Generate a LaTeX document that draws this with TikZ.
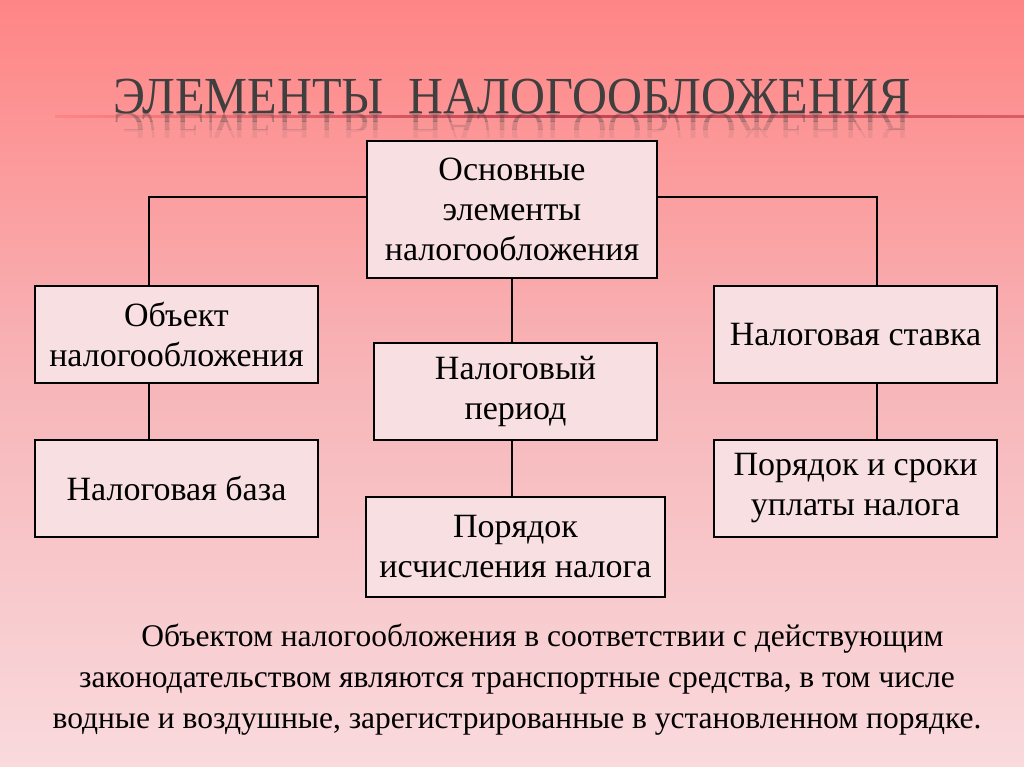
\documentclass[tikz,border=0pt]{standalone}
\usepackage{fontspec}
\setmainfont{Liberation Serif}
\newfontfamily\titlefont[FakeStretch=0.93]{Liberation Serif}
\usetikzlibrary{calc}
\definecolor{bgtop}{HTML}{FF8585}
\definecolor{bgmid}{HTML}{F7B6B9}
\definecolor{bgbot}{HTML}{F9DADD}
\definecolor{boxfill}{HTML}{F8DFE1}
\definecolor{titlegray}{HTML}{3F3F3F}
\definecolor{linered}{HTML}{C24352}
\tikzset{
  box/.style={draw=black, line width=2.6pt, fill=boxfill, align=center,
    inner sep=0pt, font=\fontsize{34}{40}\selectfont},
  conn/.style={draw=black, line width=2.6pt},
  ttl/.style={anchor=base, text=titlegray, inner sep=0pt,
    font=\titlefont\fontsize{52}{52}\selectfont}
}
\begin{document}
\begin{tikzpicture}[x=1pt,y=-1pt]
\useasboundingbox (0,0) rectangle (1024,767);
\shade[top color=bgtop, bottom color=bgbot, middle color=bgmid] (0,0) rectangle (1024,767);
% title line
\shade[left color=bgtop, right color=linered!60!bgtop, middle color=linered] (55,115.5) rectangle (1024,118);
% title
\node[ttl] (title) at (512,114) {ЭЛЕМЕНТЫ\ \ НАЛОГООБЛОЖЕНИЯ};
% reflection
\begin{scope}
\clip (0,114) rectangle (1024,122);
\node[ttl, opacity=0.35, yscale=-1] at (512,114) {ЭЛЕМЕНТЫ\ \ НАЛОГООБЛОЖЕНИЯ};
\end{scope}
\begin{scope}
\clip (0,122) rectangle (1024,130);
\node[ttl, opacity=0.2, yscale=-1] at (512,114) {ЭЛЕМЕНТЫ\ \ НАЛОГООБЛОЖЕНИЯ};
\end{scope}
\begin{scope}
\clip (0,130) rectangle (1024,138);
\node[ttl, opacity=0.08, yscale=-1] at (512,114) {ЭЛЕМЕНТЫ\ \ НАЛОГООБЛОЖЕНИЯ};
\end{scope}

% boxes
\node[box, minimum width=290pt, minimum height=137pt] (top) at (512,209.5) {Основные\\элементы\\налогообложения};
\node[box, minimum width=283pt, minimum height=97pt] (l1) at (176.5,334.5) {Объект\\налогообложения};
\node[box, minimum width=283pt, minimum height=97pt] (l2) at (176.5,488.5) {Налоговая база};
\node[box, minimum width=283pt, minimum height=97pt] (m1) at (515.5,391.5) {Налоговый\\период};
\node[box, minimum width=299pt, minimum height=100pt] (m2) at (515.5,547) {Порядок\\исчисления налога};
\node[box, minimum width=283pt, minimum height=97pt] (r1) at (855.5,334.5) {Налоговая ставка};
\node[box, minimum width=283pt, minimum height=97pt] (r2) at (855.5,488.5) {Порядок и сроки\\уплаты налога};

% connectors
\draw[conn] ($(top.west)+(0,-12.5)$) -| ($(l1.north)+(-27.5,0)$);
\draw[conn] ($(top.east)+(0,-12.5)$) -| ($(r1.north)+(21.5,0)$);
\draw[conn] ($(l1.south)+(-27.5,0)$) -- ($(l2.north)+(-27.5,0)$);
\draw[conn] ($(r1.south)+(21.5,0)$) -- ($(r2.north)+(21.5,0)$);
\draw[conn] (top.south) -- (top.south |- m1.north);
\draw[conn] (top.south |- m1.south) -- (top.south |- m2.north);

% body text
\node[align=center, inner sep=0pt, font=\fontsize{31.5}{41}\selectfont, anchor=north] (body) at (517,624)
{\hspace*{51pt}Объектом налогообложения в соответствии с действующим\\
законодательством являются транспортные средства, в том числе\\
водные и воздушные, зарегистрированные в установленном порядке.};
\end{tikzpicture}
\end{document}
